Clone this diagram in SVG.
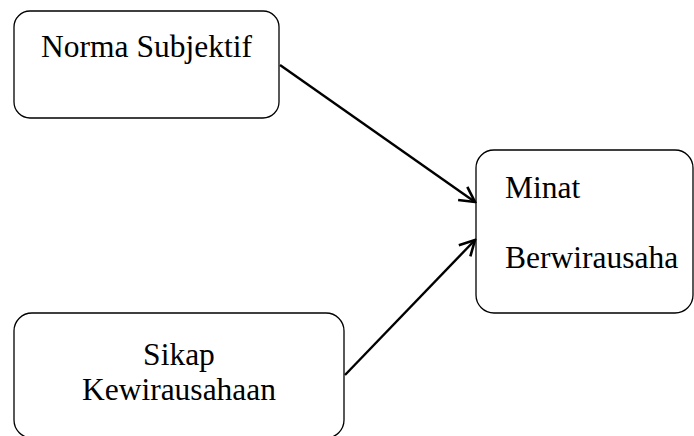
<svg xmlns="http://www.w3.org/2000/svg" width="694" height="436" viewBox="0 0 694 436">
<style>
.box{fill:#fff;stroke:#000;stroke-width:1.3}
.lbl{font-family:'Liberation Serif','Times New Roman',Times,serif;font-size:31.5px;fill:#000}
.conn{stroke:#000;stroke-width:2.4;fill:none}
</style>
<defs>
<marker id="arr" viewBox="0 0 20 20" refX="18" refY="10" markerWidth="20" markerHeight="20" markerUnits="userSpaceOnUse" orient="auto">
<path d="M3 2 L18 10 L3 18" fill="none" stroke="#000" stroke-width="2.6"/>
</marker>
</defs>
<rect width="694" height="436" fill="#fff"/>
<g id="node-norma">
<rect class="box" x="14" y="11" width="265" height="107" rx="16"/>
<text class="lbl" x="146.5" y="57" text-anchor="middle">Norma Subjektif</text>
</g>
<g id="node-minat">
<rect class="box" x="476" y="150" width="217" height="163" rx="18"/>
<text class="lbl" x="505" y="198">Minat</text>
<text class="lbl" x="505" y="268">Berwirausaha</text>
</g>
<g id="node-sikap">
<rect class="box" x="14" y="313" width="330" height="125" rx="18"/>
<text class="lbl" x="179" y="365" text-anchor="middle">Sikap</text>
<text class="lbl" x="179" y="400" text-anchor="middle">Kewirausahaan</text>
</g>
<g id="connectors">
<line class="conn" x1="280" y1="65" x2="475" y2="202" marker-end="url(#arr)"/>
<line class="conn" x1="345" y1="375" x2="475" y2="240" marker-end="url(#arr)"/>
</g>
</svg>
